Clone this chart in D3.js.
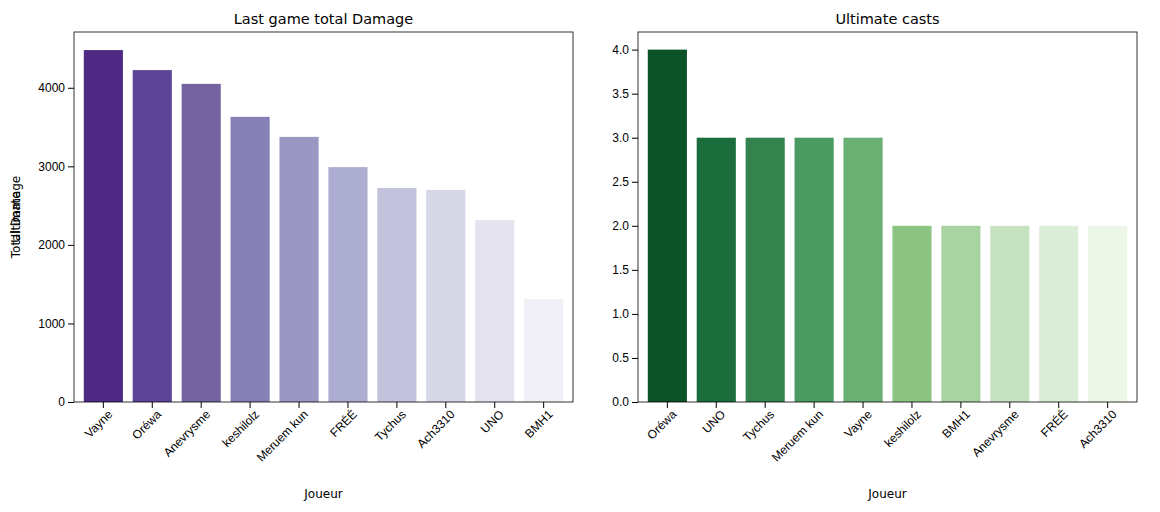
<!DOCTYPE html>
<html><head><meta charset="utf-8">
<script src="https://d3js.org/d3.v7.min.js"></script>
<style>body{margin:0;background:#fff;font-family:"DejaVu Sans",sans-serif}</style>
</head><body><div id="chart"></div>
<script>
// Données
const damagePlayers = ["Vayne","Oréwa","Anevrysme","keshilolz","Meruem kun","FRÉÉ","Tychus","Ach3310","UNO","BMH1"];
const damageValues = [4480,4225,4050,3630,3375,2990,2725,2700,2315,1310];
const damageColors = ["#4e2a84","#5e4496","#7464a2","#8581b5","#9a98c3","#adadd1","#c2c2dc","#d6d7e7","#e5e3ef","#f1f0f6"];

const ultPlayers = ["Oréwa","UNO","Tychus","Meruem kun","Vayne","keshilolz","BMH1","Anevrysme","FRÉÉ","Ach3310"];
const ultValues = [4,3,3,3,3,2,2,2,2,2];
const ultColors = ["#0b5229","#1b6e3b","#34834f","#4b9b61","#6bb073","#8dc482","#a9d4a2","#c6e2c0","#ddeed8","#ecf7e8"];

const width = 1160, height = 512;
const svg = d3.select("#chart").append("svg").attr("width", width).attr("height", height);

function panel(x0, title, yLabel, players, values, colors, yMax, ticks, fmt) {
  const w = 499, h = 370, top = 32;
  const g = svg.append("g").attr("transform", `translate(${x0},${top})`);
  const x = d3.scaleBand().domain(players).range([0, w]).padding(0.2);
  const y = d3.scaleLinear().domain([0, yMax]).range([h, 0]);

  g.selectAll("rect").data(values).enter().append("rect")
    .attr("x", (d, i) => x(players[i]))
    .attr("y", d => y(d))
    .attr("width", x.bandwidth())
    .attr("height", d => h - y(d))
    .attr("fill", (d, i) => colors[i]);

  const ya = g.append("g").call(d3.axisLeft(y).tickValues(ticks).tickFormat(fmt).tickSizeOuter(0));
  ya.selectAll("text").attr("font-size", 12).attr("fill", "#000");
  const xa = g.append("g").attr("transform", `translate(0,${h})`).call(d3.axisBottom(x).tickSizeOuter(0));
  xa.selectAll("text").attr("font-size", 12).attr("fill", "#000")
    .attr("text-anchor", "end").attr("dx", "-0.2em").attr("dy", "0.6em")
    .attr("transform", "rotate(-45)");
  g.selectAll(".domain").remove();
  g.append("rect").attr("width", w).attr("height", h).attr("fill", "none").attr("stroke", "#000").attr("stroke-width", 0.8);

  g.append("text").attr("x", w / 2).attr("y", -8).attr("text-anchor", "middle")
    .attr("font-size", 14.5).text(title);
  g.append("text").attr("x", w / 2).attr("y", h + 96).attr("text-anchor", "middle")
    .attr("font-size", 12).text("Joueur");
  g.append("text").attr("transform", `translate(${-x0 + 20},${h / 2}) rotate(-90)`)
    .attr("text-anchor", "middle").attr("font-size", 12).text(yLabel);
}

panel(74, "Last game total Damage", "Total Damage", damagePlayers, damageValues, damageColors,
  4710, [0,1000,2000,3000,4000], d3.format("d"));
panel(638, "Ultimate casts", "Ultimate", ultPlayers, ultValues, ultColors,
  4.2, d3.range(0, 4.01, 0.5), d3.format(".1f"));
svg.select("g:last-of-type");
// ajuster l'étiquette de l'axe Y du second panneau
svg.selectAll("g").filter(function(){return false;});
</script></body></html>
